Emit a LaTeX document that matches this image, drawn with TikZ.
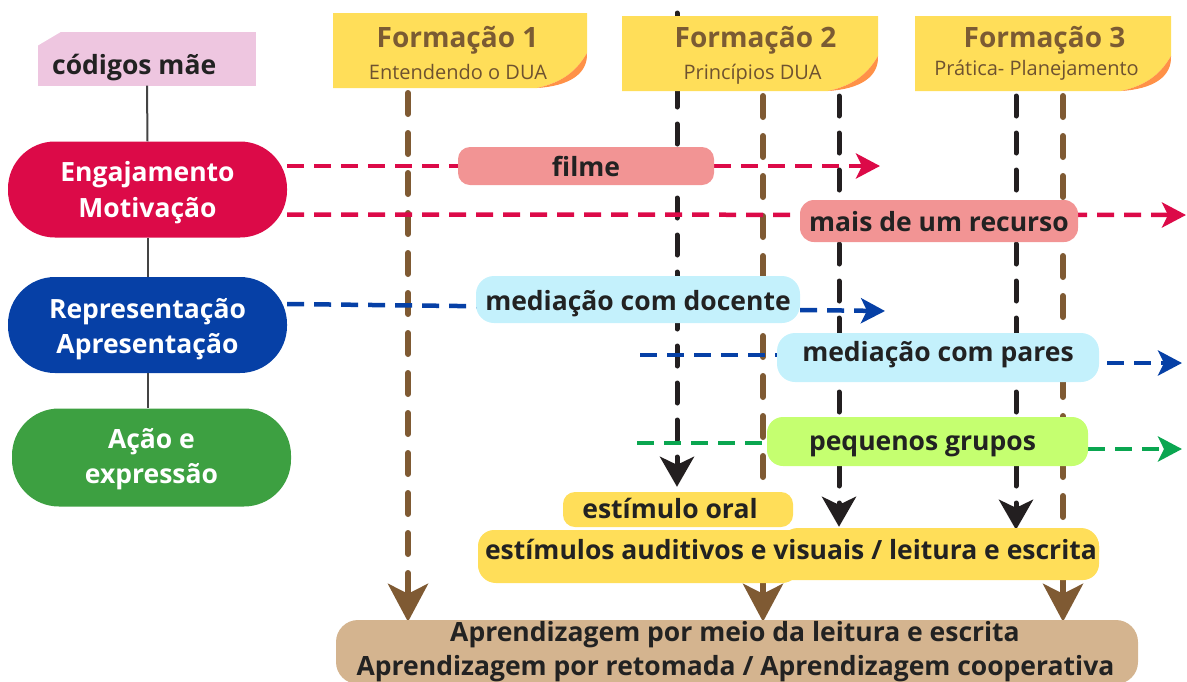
\documentclass[tikz,border=0pt]{standalone}
\usepackage{fontspec}
\setmainfont{Open Sans}
\usetikzlibrary{arrows.meta,backgrounds}
\definecolor{cred}{HTML}{DC0A48}
\definecolor{cblue}{HTML}{0640A6}
\definecolor{cgreen}{HTML}{3DA041}
\definecolor{cgreenl}{HTML}{0AA650}
\definecolor{cpink}{HTML}{EEC6E0}
\definecolor{csalmon}{HTML}{F29494}
\definecolor{clblue}{HTML}{C4F1FC}
\definecolor{clime}{HTML}{C5FF70}
\definecolor{cyel}{HTML}{FFDE59}
\definecolor{ctan}{HTML}{D4B48F}
\definecolor{cbrown}{HTML}{7F5A33}
\definecolor{cblack}{HTML}{231F20}
\definecolor{corange}{HTML}{FF9147}
\definecolor{ctitle}{HTML}{7B5B33}
\definecolor{csub}{HTML}{6E5230}
\definecolor{ctext}{HTML}{222222}
\definecolor{cgray}{HTML}{444444}
\newcommand\stickynote[4]{%
 \fill[cyel] (#1,#2) -- (#3,#2) -- (#3,#4-35) .. controls (#3-12,#4-14) and (#3-28,#4-5) .. (#3-50,#4) -- (#1,#4) -- cycle;
 \fill[corange] (#3,#4-35) .. controls (#3-12,#4-14) and (#3-28,#4-5) .. (#3-50,#4) .. controls (#3-18,#4-2) and (#3+1,#4-14) .. cycle;}
\begin{document}
\begin{tikzpicture}[x=1pt,y=-1pt,
  every node/.style={inner sep=0pt, text=ctext},
  pill/.style={rounded corners=47pt, minimum width=279pt, minimum height=96pt},
  pilltext/.style={anchor=base, font=\bfseries\fontsize{26.5}{30}\selectfont, text=white},
  tag/.style={rounded corners=#1, font=\bfseries\fontsize{26.5}{30}\selectfont, text depth=0pt},
  ftitle/.style={anchor=base, font=\bfseries\fontsize{28}{32}\selectfont, text=ctitle},
  fsub/.style={anchor=base, font=\fontsize{20}{24}\selectfont, text=csub},
  notebox/.style={minimum width=255pt, minimum height=75pt},
  grayline/.style={draw=cgray, line width=2pt},
  hdash/.style={line width=4.5pt, dash pattern=on 17pt off 10pt},
  harrow/.style={-{Stealth[length=24pt,width=25pt,inset=6pt]}},
  vbrown/.style={draw=cbrown, line width=6pt, line cap=round, dash pattern=on 21pt off 19pt,
     -{Stealth[length=38pt,width=40pt,inset=10pt]}},
  vblack/.style={draw=cblack, line width=5pt, line cap=round, dash pattern=on 20pt off 17pt,
     -{Stealth[length=30pt,width=34pt,inset=8pt]}}
]
\useasboundingbox (0,0) rectangle (1187,681);

% codigos mae
\node[fill=cpink, minimum width=218pt, minimum height=54pt] (cod) at (147,58.5) {};
\fill[white] (37,30) -- (64,30) -- (37,46) -- cycle;
\node[anchor=base west, font=\bfseries\fontsize{26.5}{30}\selectfont] (codt) at (52,74) {códigos mãe};

% pills
\node[pill, fill=cred] (eng) at (147.5,189.5) {};
\node[pill, fill=cblue] (rep) at (147.5,325) {};
\node[pill, fill=cgreen, minimum height=98pt] (acao) at (151.5,457.5) {};
\node[pilltext] (eng1) at (147.5,181) {Engajamento};
\node[pilltext] (eng2) at (147.5,217) {Motivação};
\node[pilltext] (rep1) at (147.5,318) {Representação};
\node[pilltext] (rep2) at (147.5,353) {Apresentação};
\node[pilltext] (acao1) at (151.5,448) {Ação e};
\node[pilltext] (acao2) at (151.5,483) {expressão};
\draw[grayline] (cod.south) -- (eng.north);
\draw[grayline] (eng.south) -- (rep.north);
\draw[grayline] (rep.south) -- (rep.south |- acao.north);

% sticky notes
\stickynote{333}{13}{587}{88}
\stickynote{622}{16}{878}{91}
\stickynote{915}{16}{1171}{91}
\node[notebox] (n1) at (460,50.5) {};
\node[notebox] (n2) at (750,53.5) {};
\node[notebox] (n3) at (1043,53.5) {};
\node[ftitle] (f1) at (457.5,47) {Formação 1};
\node[fsub] (f1s) at (458,79) {Entendendo o DUA};
\node[ftitle] (f2) at (755.5,47) {Formação 2};
\node[fsub] (f2s) at (752.5,79) {Princípios DUA};
\node[ftitle] (f3) at (1044.5,47) {Formação 3};
\node[fsub] (f3s) at (1036.5,75) {Prática- Planejamento};

% strategy nodes
\node[tag=12pt, fill=csalmon, minimum width=256pt, minimum height=38pt, text height=21pt] (filme) at (586,166) {filme};
\node[tag=14pt, fill=csalmon, minimum width=278pt, minimum height=42pt, text height=21pt] (recurso) at (939,221) {mais de um recurso};
\node[tag=18pt, fill=clblue, minimum width=324pt, minimum height=47pt, text height=21pt] (docente) at (638,299.5) {mediação com docente};
\node[tag=18pt, fill=clblue, minimum width=322pt, minimum height=49pt, text height=7pt] (pares) at (938,357.5) {mediação com pares};
\node[tag=16pt, fill=clime, minimum width=321pt, minimum height=49pt, text height=17pt] (grupos) at (927.5,441.5) {\hspace*{-10pt}pequenos grupos};
\node[tag=12pt, fill=cyel, minimum width=230pt, minimum height=35pt, text height=17pt] (oral) at (678,509.5) {\hspace*{-16pt}estímulo oral};
\fill[cyel, rounded corners=18pt] (478,536) rectangle (800,583);
\fill[cyel, rounded corners=18pt] (780,528) rectangle (1099,570);
\node[tag=16pt, fill=cyel, minimum width=621pt, minimum height=50pt, text height=8pt] (stim) at (788.5,555) {\hspace*{5pt}estímulos auditivos e visuais / leitura e escrita};
\node[rounded corners=22pt, fill=ctan, minimum width=802pt, minimum height=64pt] (apr) at (737,652) {};
\node[anchor=base, font=\bfseries\fontsize{26.5}{30}\selectfont] (apr1) at (735,641) {Aprendizagem por meio da leitura e escrita};
\node[anchor=base, font=\bfseries\fontsize{26.5}{30}\selectfont] (apr2) at (735.5,675) {Aprendizagem por retomada / Aprendizagem cooperativa};

% free ends
\coordinate (r1e) at (880,166);
\coordinate (r2e) at (1186,215);
\coordinate (b1e) at (885,311);
\coordinate (b2s) at (640,355);
\coordinate (b2e) at (1182,363);
\coordinate (gs) at (637,443);
\coordinate (ge) at (1182,449);
\coordinate (tb1) at (408,93);
\coordinate (tk1) at (677,13);
\coordinate (tb2) at (763,96);
\coordinate (tk2) at (839,96);
\coordinate (tk3) at (1016,96);
\coordinate (tb3) at (1063,96);

\begin{scope}[on background layer]
\draw[vbrown] (tb1) -- ([yshift=-2pt]tb1 |- apr.north);
\draw[vbrown] (tb2) -- ([yshift=-2pt]tb2 |- apr.north);
\draw[vbrown] (tb3) -- ([yshift=-2pt]tb3 |- apr.north);
\draw[vblack] (tk1) -- ([yshift=5pt]tk1 |- oral.north);
\draw[vblack] (tk2) -- ([yshift=3pt]tk2 |- stim.north);
\draw[vblack] (tk3) -- (tk3 |- stim.north);
\draw[hdash, cred] (eng.east |- filme.west) -- (filme.west);
\draw[hdash, cred, harrow] (filme.east) -- (r1e);
\draw[hdash, cred, harrow] ([yshift=-25pt]eng.east) -- (r2e);
\draw[hdash, cblue, harrow] ([yshift=21pt]rep.east) -- (b1e);
\draw[hdash, cblue] (b2s) -- (b2s -| pares.west);
\draw[hdash, cblue, harrow] ([xshift=8pt]pares.east |- b2e) -- (b2e);
\draw[hdash, cgreenl] (gs) -- (gs -| grupos.west);
\draw[hdash, cgreenl, harrow] (grupos.east |- ge) -- (ge);
\end{scope}
\end{tikzpicture}
\end{document}
